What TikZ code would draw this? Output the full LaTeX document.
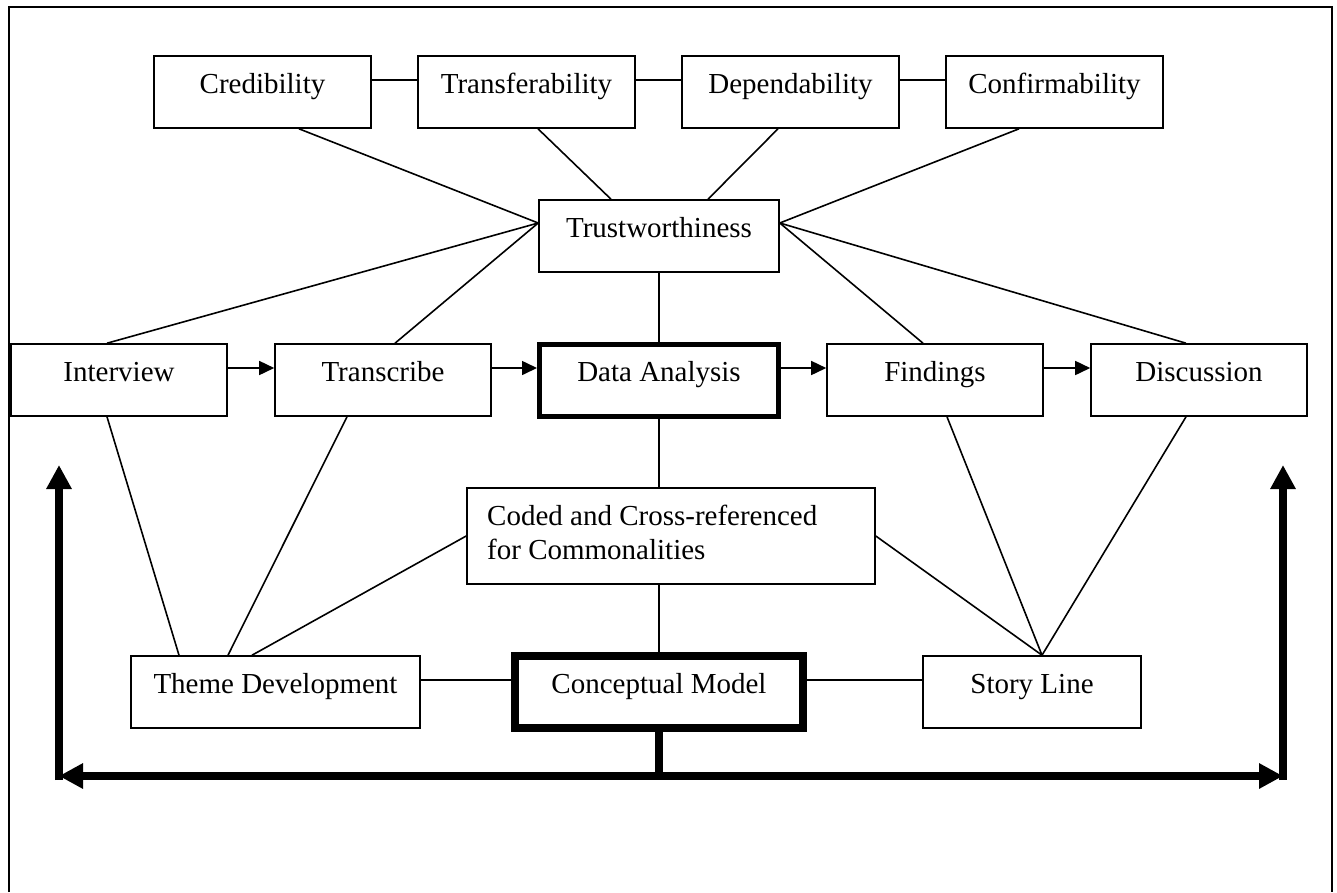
\documentclass[tikz,border=0pt]{standalone}
\usepackage{fontspec}
\setmainfont{Liberation Serif}
\usetikzlibrary{arrows.meta}
\tikzset{
  txt/.style={font=\fontsize{29}{34}\selectfont},
  box/.style={draw, line width=1.6pt, inner sep=0pt, minimum height=72pt,
    text height=37pt, text depth=35pt, txt},
  conn/.style={line width=1.6pt},
  thinarrow/.style={line width=1.6pt, -{Triangle[length=15pt,width=14pt]}},
  bigline/.style={line width=8pt},
  bigboth/.style={line width=8pt, {Triangle[length=24pt,width=24pt]}-{Triangle[length=24pt,width=24pt]}},
  bigone/.style={line width=8pt, -{Triangle[length=24pt,width=24pt]}},
}
\begin{document}
\begin{tikzpicture}[x=1pt,y=-1pt]
\useasboundingbox (0,0) rectangle (1337,892);
% outer frame
\draw[line width=2pt] (9,892) -- (9,7) -- (1332,7) -- (1332,892);

% top row
\node[box, minimum width=217pt] (cred) at (262.5,92) {Credibility};
\node[box, minimum width=217pt] (trans) at (526.5,92) {Transferability};
\node[box, minimum width=217pt] (dep) at (790.5,92) {Dependability};
\node[box, minimum width=217pt] (conf) at (1054.5,92) {Confirmability};

\node[box, minimum width=240pt] (trust) at (659,236) {Trustworthiness};

% middle row
\node[box, minimum width=216pt] (intv) at (119,380) {Interview};
\node[box, minimum width=216pt] (tran) at (383,380) {Transcribe};
\node[box, line width=5pt, minimum width=239pt, minimum height=71pt] (da) at (659,380) {Data Analysis};
\node[box, minimum width=216pt] (find) at (935,380) {Findings};
\node[box, minimum width=216pt] (disc) at (1199,380) {Discussion};

% coded box
\node[draw, line width=1.6pt, inner sep=0pt, minimum width=408pt, minimum height=96pt] (coded) at (671,536) {};
\node[txt, inner sep=0pt, anchor=base west] (codedtxt) at (487,525)
  {\begin{tabular}[t]{@{}l@{}}Coded and Cross-referenced\\for Commonalities\end{tabular}};

% bottom row
\node[box, minimum width=289pt] (theme) at (275.5,692) {Theme Development};
\node[box, line width=7.5pt, minimum width=288pt] (cm) at (659,692) {Conceptual Model};
\node[box, minimum width=218pt] (story) at (1032,692) {Story Line};

% top row links
\draw[conn] ([yshift=12pt]cred.east) -- ([yshift=12pt]trans.west);
\draw[conn] ([yshift=12pt]trans.east) -- ([yshift=12pt]dep.west);
\draw[conn] ([yshift=12pt]dep.east) -- ([yshift=12pt]conf.west);

% links to trustworthiness
\draw[conn] ([xshift=36.5pt]cred.south) -- ([yshift=13pt]trust.west);
\draw[conn] ([xshift=11.5pt]trans.south) -- ([xshift=-48pt]trust.north);
\draw[conn] ([xshift=-12.5pt]dep.south) -- ([xshift=49pt]trust.north);
\draw[conn] ([xshift=-35.5pt]conf.south) -- ([yshift=13pt]trust.east);
\draw[conn] ([xshift=-12pt]intv.north) -- ([yshift=13pt]trust.west);
\draw[conn] ([xshift=12pt]tran.north) -- ([yshift=13pt]trust.west);
\draw[conn] ([xshift=-12pt]find.north) -- ([yshift=13pt]trust.east);
\draw[conn] ([xshift=-13pt]disc.north) -- ([yshift=13pt]trust.east);
\draw[conn] (trust.south) -- (da.north);

% process arrows
\draw[thinarrow] ([yshift=12pt]intv.east) -- ([yshift=12pt]tran.west);
\draw[thinarrow] ([yshift=12pt]tran.east) -- ([yshift=12pt]da.west);
\draw[thinarrow] ([yshift=12pt]da.east) -- ([yshift=12pt]find.west);
\draw[thinarrow] ([yshift=12pt]find.east) -- ([yshift=12pt]disc.west);

% middle links
\draw[conn] (da.south) -- ([xshift=-12pt]coded.north);
\draw[conn] ([xshift=-12pt]coded.south) -- (cm.north);

% to theme development
\draw[conn] ([xshift=-12pt]intv.south) -- ([xshift=-96.5pt]theme.north);
\draw[conn] ([xshift=-36pt]tran.south) -- ([xshift=-47.5pt]theme.north);
\draw[conn] (coded.west) -- ([xshift=-23.5pt]theme.north);

% to story line
\draw[conn] (coded.east) -- ([xshift=10pt]story.north);
\draw[conn] ([xshift=12pt]find.south) -- ([xshift=10pt]story.north);
\draw[conn] ([xshift=-13pt]disc.south) -- ([xshift=10pt]story.north);

% bottom row links
\draw[conn] ([yshift=12pt]theme.east) -- ([yshift=12pt]cm.west);
\draw[conn] ([yshift=12pt]cm.east) -- ([yshift=12pt]story.west);

% feedback arrows
\coordinate (hm) at (659,776);
\coordinate (hl) at (59,776);
\coordinate (hr) at (1283,776);
\coordinate (ul) at (59,465);
\coordinate (ur) at (1283,465);
\coordinate (blc) at (59,780);
\coordinate (brc) at (1283,780);
\draw[bigline] (cm.south) -- (hm);
\draw[bigboth] (hl) -- (hr);
\draw[bigone] (blc) -- (ul);
\draw[bigone] (brc) -- (ur);
\end{tikzpicture}
\end{document}
